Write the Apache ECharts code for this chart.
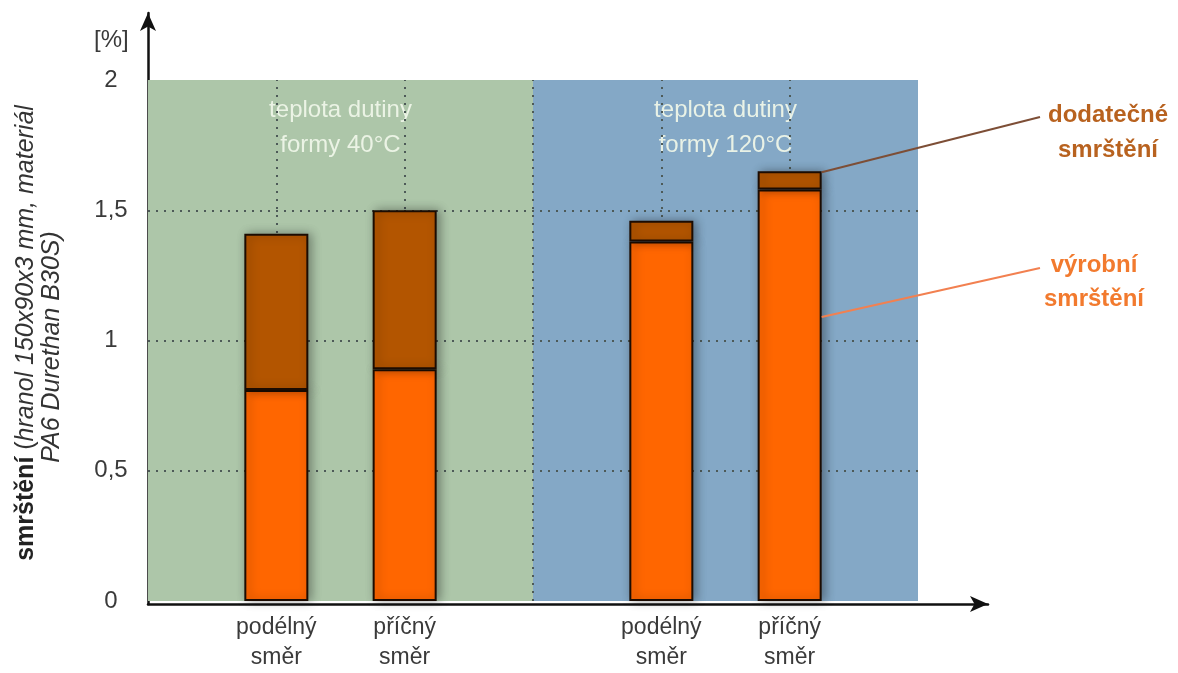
<!DOCTYPE html>
<html>
<head>
<meta charset="utf-8">
<script src="https://cdn.jsdelivr.net/npm/echarts@6/dist/echarts.min.js"></script>
<style>
html,body{margin:0;padding:0;background:#fff;}
#chart{width:1178px;height:673px;}
</style>
</head>
<body>
<div id="chart"></div>
<script>
// ---- data ----
// slots on the horizontal scale; empty slots are spacers / group boundary
var categories = ['', 'podélný\nsměr', 'příčný\nsměr', '', 'podélný\nsměr', 'příčný\nsměr', ''];
var vyrobni = [null, 0.81, 0.89, null, 1.38, 1.58, null];   // výrobní smrštění [%]
var dodatecne = [null, 0.60, 0.61, null, 0.08, 0.07, null]; // dodatečné smrštění [%]
var yTicks = [0, 0.5, 1, 1.5, 2];
var groups = ['teplota dutiny\nformy 40°C', 'teplota dutiny\nformy 120°C'];
var groupRanges = [[0, 3], [3, 6]];
var leaderIndex = 5;        // bar the annotations point to
var leaderValueLow = 1.09;  // where the "výrobní" leader touches the bar

var FONT = '"Liberation Sans", Arial, Helvetica, sans-serif';
var chart = echarts.init(document.getElementById('chart'));

var option = {
  backgroundColor: '#ffffff',
  animation: false,
  grid: [
    { left: 148, top: 80, width: 770, bottom: 68 },
    { left: 148, top: 13, right: 190, bottom: 69 }
  ],
  xAxis: [
    {
      type: 'category', gridIndex: 0, data: categories, boundaryGap: false,
      axisLine: { show: false }, axisTick: { show: false }, splitLine: { show: false },
      axisLabel: {
        interval: 0, margin: 12, fontSize: 23, lineHeight: 30, color: '#3a3a3a', fontFamily: FONT
      }
    },
    {
      type: 'value', gridIndex: 1, min: 0, max: 1,
      axisLine: { show: true, symbol: ['none', 'arrow'], symbolSize: [12, 18],
        lineStyle: { color: '#111', width: 2.5 } },
      axisTick: { show: false }, axisLabel: { show: false }, splitLine: { show: false }
    }
  ],
  yAxis: [
    {
      type: 'value', gridIndex: 0, min: yTicks[0], max: yTicks[yTicks.length - 1], interval: 0.5,
      axisLine: { show: false }, axisTick: { show: false }, splitLine: { show: false },
      axisLabel: {
        margin: 37, align: 'center', fontSize: 24, color: '#3a3a3a', fontFamily: FONT,
        formatter: function (v) { return String(v).replace('.', ','); }
      }
    },
    {
      type: 'value', gridIndex: 1, min: 0, max: 1,
      axisLine: { show: true, symbol: ['none', 'arrow'], symbolSize: [12, 18],
        lineStyle: { color: '#111', width: 2.5 } },
      axisTick: { show: false }, axisLabel: { show: false }, splitLine: { show: false }
    }
  ],
  series: [
    {
      type: 'line', xAxisIndex: 0, yAxisIndex: 0, data: [], silent: true, z: 1,
      markArea: {
        silent: true, z: 1,
        label: {
          position: 'insideTop', distance: 13, fontSize: 24, lineHeight: 35,
          color: 'rgba(238,246,232,0.95)', fontFamily: FONT, align: 'center'
        },
        data: [
          [{ name: groups[0], coord: [groupRanges[0][0], 0], itemStyle: { color: '#adc6a9' } },
           { coord: [groupRanges[0][1], 2] }],
          [{ name: groups[1], coord: [groupRanges[1][0], 0], itemStyle: { color: '#84a8c6' } },
           { coord: [groupRanges[1][1], 2] }]
        ]
      },
      markLine: {
        silent: true, z: 2, symbol: ['none', 'none'], label: { show: false },
        lineStyle: { type: [2, 6], color: '#4d5a58', width: 2 },
        data: [
          { yAxis: 0.5 }, { yAxis: 1 }, { yAxis: 1.5 },
          { xAxis: 1 }, { xAxis: 2 }, { xAxis: 3 }, { xAxis: 4 }, { xAxis: 5 }
        ]
      }
    },
    {
      name: 'výrobní smrštění', type: 'bar', xAxisIndex: 0, yAxisIndex: 0, stack: 's',
      barWidth: 64, z: 5,
      itemStyle: { color: '#ff6600', borderColor: '#1c0c02', borderWidth: 2,
        shadowBlur: 10, shadowColor: 'rgba(0,0,0,0.35)', shadowOffsetX: 3 },
      data: vyrobni
    },
    {
      name: 'dodatečné smrštění', type: 'bar', xAxisIndex: 0, yAxisIndex: 0, stack: 's',
      barWidth: 64, z: 5,
      itemStyle: { color: '#b35500', borderColor: '#1c0c02', borderWidth: 2,
        shadowBlur: 10, shadowColor: 'rgba(0,0,0,0.35)', shadowOffsetX: 3 },
      data: dodatecne
    }
  ]
};
chart.setOption(option);

// leader lines from the last bar to the annotations
var halfBar = 32;
var pTop = chart.convertToPixel({ gridIndex: 0 }, [leaderIndex, vyrobni[leaderIndex] + dodatecne[leaderIndex]]);
var pLow = chart.convertToPixel({ gridIndex: 0 }, [leaderIndex, leaderValueLow]);

chart.setOption({
  graphic: [
    { type: 'text', left: 94, top: 28, style: { text: '[%]', fill: '#3a3a3a', font: '24px ' + FONT } },
    {
      type: 'text', x: 26, y: 333, rotation: Math.PI / 2,
      style: {
        text: '{b|smrštění}{n| (}{i|hranol 150x90x3 mm, materiál}',
        align: 'center', verticalAlign: 'middle',
        rich: {
          b: { fontSize: 25, fontWeight: 'bold', fill: '#222', fontFamily: FONT },
          n: { fontSize: 25, fill: '#333', fontFamily: FONT },
          i: { fontSize: 25, fontStyle: 'italic', fill: '#333', fontFamily: FONT }
        }
      }
    },
    {
      type: 'text', x: 52, y: 347, rotation: Math.PI / 2,
      style: {
        text: 'PA6 Durethan B30S)', align: 'center', verticalAlign: 'middle',
        font: 'italic 25px ' + FONT, fill: '#333'
      }
    },
    {
      type: 'line', shape: { x1: pTop[0] + halfBar, y1: pTop[1] + 1, x2: 1040, y2: 117 },
      style: { stroke: '#7d4e36', lineWidth: 2 }, z: 10
    },
    {
      type: 'line', shape: { x1: pLow[0] + halfBar, y1: pLow[1], x2: 1040, y2: 268 },
      style: { stroke: '#f28050', lineWidth: 2 }, z: 10
    },
    {
      type: 'text', x: 1108, y: 133, z: 10,
      style: { text: 'dodatečné\nsmrštění', align: 'center', verticalAlign: 'middle',
        font: 'bold 24px ' + FONT, lineHeight: 35, fill: '#b8621f' }
    },
    {
      type: 'text', x: 1094, y: 282, z: 10,
      style: { text: 'výrobní\nsmrštění', align: 'center', verticalAlign: 'middle',
        font: 'bold 24px ' + FONT, lineHeight: 34, fill: '#f27a2e' }
    }
  ]
});
</script>
</body>
</html>
